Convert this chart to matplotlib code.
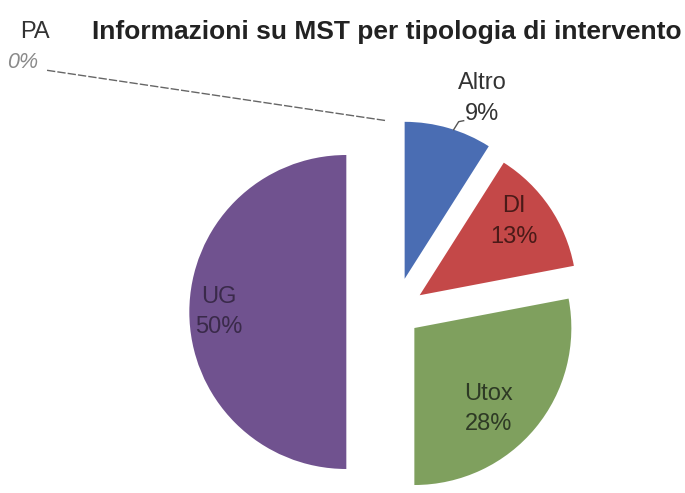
import numpy as np
import matplotlib
matplotlib.use('Agg')
import matplotlib.pyplot as plt

# dati / data
labels = ['Altro', 'DI', 'Utox', 'UG', 'PA']
values = [9, 13, 28, 50, 0]
colors = ['#4a6db3', '#c44848', '#7fa05e', '#70528f', '#999999']
explode = [0.22, 0.19, 0.16, 0.31, 0.22]   # frazione del raggio
title = 'Informazioni su MST per tipologia di intervento'

plt.rcParams['font.family'] = ['Liberation Sans', 'DejaVu Sans']

W, H = 685, 493
fig = plt.figure(figsize=(W / 100, H / 100), dpi=100)
ax = fig.add_axes([0, 0, 1, 1])

R = 157
wedges, _ = ax.pie(values, colors=colors, explode=[e * R for e in explode],
                   startangle=90, counterclock=False, radius=R,
                   center=(395, 181), wedgeprops=dict(linewidth=0), frame=True)
ax.set_xlim(0, W)
ax.set_ylim(0, H)
ax.set_aspect('equal')
ax.axis('off')

# etichette / labels (distance factor along mid-angle)
lab_f = [1.25, 0.76, 0.70, 0.81]
lab_da = [-7, 4, -8, 0]
lab_col = ['#333333', '#4a1a18', '#2e3a25', '#3a2a4a']
for w, lab, v, f, da, c in zip(wedges[:4], labels[:4], values[:4], lab_f, lab_da, lab_col):
    mid = np.deg2rad((w.theta1 + w.theta2) / 2 + da)
    cx, cy = w.center
    x = cx + w.r * f * np.cos(mid)
    y = cy + w.r * f * np.sin(mid)
    ax.text(x, y, f'{lab}\n{v}%', ha='center', va='center', fontsize=17,
            color=c, linespacing=1.5)

# piccola linea guida per Altro
w = wedges[0]
mid = np.deg2rad((w.theta1 + w.theta2) / 2 - 2)
p0 = (w.center[0] + w.r * np.cos(mid), w.center[1] + w.r * np.sin(mid))
ax.plot([p0[0], p0[0] + 5, p0[0] + 10], [p0[1], p0[1] + 8, p0[1] + 9],
        color='#555555', lw=1)

# PA 0% con linea guida
w = wedges[4]
t = np.deg2rad(w.theta1)
px, py = w.center[0] + w.r * np.cos(t) - 10, w.center[1] + w.r * np.sin(t)
ax.plot([px, 45], [py, 423], color='#666666', lw=1, ls=(0, (6, 1.5)))
ax.text(20, 461, labels[4], ha='left', va='center', fontsize=17, color='#333333')
ax.text(7, 430, f'{values[4]}%', ha='left', va='center', fontsize=15.5,
        color='#8a8a8a', style='italic')

fig.text(0.134, 0.935, title, ha='left', va='center', fontsize=19,
         fontweight='bold', color='#222222')

fig.savefig('out.png', dpi=100)
